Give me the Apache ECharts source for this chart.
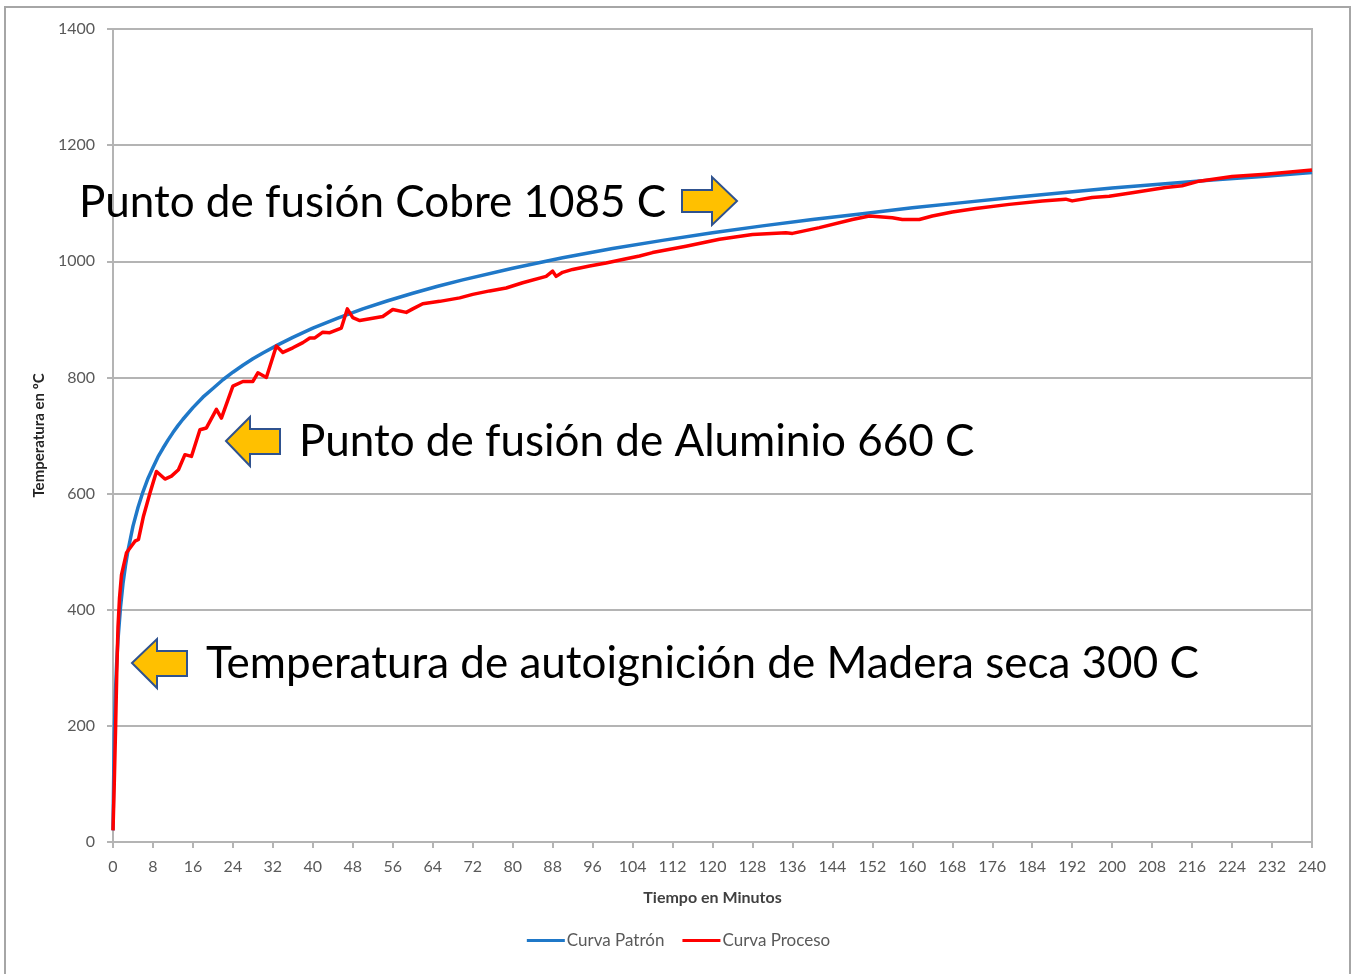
<!DOCTYPE html>
<html>
<head>
<meta charset="utf-8">
<script src="https://cdn.jsdelivr.net/npm/echarts@6/dist/echarts.min.js"></script>
<style>
  html, body { margin: 0; padding: 0; background: #fff; }
  #chart { width: 1357px; height: 974px; }
</style>
</head>
<body>
<div id="chart"></div>
<script>
// Time axis ticks (minutes) and temperature ticks (°C)
const xTicks = [0, 8, 16, 24, 32, 40, 48, 56, 64, 72, 80, 88, 96, 104, 112, 120, 128, 136, 144, 152, 160, 168, 176, 184, 192, 200, 208, 216, 224, 232, 240];
const yTicks = [0, 200, 400, 600, 800, 1000, 1200, 1400];

// Standard curve: time (min) and temperature (°C)
const patronTime = [0, 0.25, 0.5, 0.75, 1, 1.5, 2, 2.5, 3, 4, 5, 6, 7, 8, 9, 10, 11, 12, 13, 14, 16, 18, 20, 22, 24, 26, 28, 30, 33, 36, 40, 45, 50, 55, 60, 65, 70, 80, 90, 100, 110, 120, 130, 140, 150, 160, 170, 180, 190, 200, 210, 220, 230, 240];
const patronTemp = [20, 185, 261, 311, 349, 404, 445, 476, 502, 544, 576, 603, 626, 645, 663, 678, 692, 705, 717, 728, 748, 766, 781, 796, 809, 821, 832, 842, 856, 869, 885, 902, 918, 932, 945, 957, 968, 988, 1006, 1022, 1036, 1049, 1061, 1072, 1082, 1092, 1101, 1110, 1118, 1126, 1133, 1140, 1146, 1153];

// Measured process curve: time (min) and temperature (°C)
const procesoTime = [0, 0.25, 0.5, 0.75, 1, 1.3, 1.7, 2.7, 4.4, 5.1, 6.1, 7.4, 8.7, 10.4, 11.7, 13.1, 14.4, 15.7, 17.4, 18.7, 20.7, 21.7, 24, 26, 28, 29, 30.7, 32.7, 34, 36, 38, 39.4, 40.4, 42, 43.4, 45.7, 46.9, 48, 49.4, 51.4, 54, 56, 58.7, 60, 62, 65.4, 69.4, 72, 75.4, 78.7, 82, 86.7, 88, 88.7, 90, 92, 95.4, 98.7, 102, 105.4, 108, 114.7, 121.4, 128, 134.7, 136, 141.4, 148, 151.4, 156, 158, 161.4, 164, 168, 172.7, 179.4, 186, 190.7, 192, 196, 199.4, 204, 210.7, 214, 217.4, 224, 230.7, 240];
const procesoTemp = [20, 100, 190, 290, 370, 420, 460, 498, 518, 521, 561, 601, 638, 625, 630, 641, 667, 664, 710, 713, 745, 730, 785, 793, 793, 808, 800, 854, 843, 851, 860, 868, 868, 878, 877, 885, 918, 903, 898, 901, 905, 917, 912, 918, 927, 931, 937, 943, 949, 954, 963, 974, 983, 974, 981, 986, 992, 997, 1003, 1009, 1015, 1026, 1038, 1046, 1049, 1048, 1058, 1072, 1078, 1075, 1072, 1072, 1078, 1085, 1091, 1098, 1104, 1107, 1104, 1110, 1112, 1118, 1127, 1130, 1138, 1146, 1150, 1157];

// Annotation texts
const notes = [
  'Punto de fusión Cobre 1085 C',
  'Punto de fusión de Aluminio 660 C',
  'Temperatura de autoignición de Madera seca 300 C'
];

const pairs = (xs, ys) => xs.map((x, i) => [x, ys[i]]);

const FONT = 'Lato, "Open Sans", sans-serif';
const GRID_COLOR = '#b4b4b4';
const LABEL_COLOR = '#595959';
const ARROW_FILL = '#FFC000';
const ARROW_STROKE = '#2F528F';

const chart = echarts.init(document.getElementById('chart'), null, { renderer: 'canvas' });

function arrow(points) {
  return {
    type: 'polygon',
    shape: { points: points },
    style: { fill: ARROW_FILL, stroke: ARROW_STROKE, lineWidth: 2, lineJoin: 'miter' },
    z: 100
  };
}
function note(text, x, y) {
  return {
    type: 'text',
    x: x, y: y,
    style: { text: text, fill: '#000', font: '44px ' + FONT, textAlign: 'left', textVerticalAlign: 'middle' },
    z: 100
  };
}

chart.setOption({
  animation: false,
  backgroundColor: '#fff',
  grid: {
    left: 113, right: 45, top: 29, bottom: 132,
    show: true, borderColor: GRID_COLOR, borderWidth: 2, backgroundColor: 'transparent'
  },
  xAxis: {
    type: 'value',
    min: xTicks[0], max: xTicks[xTicks.length - 1], interval: 8,
    name: 'Tiempo en Minutos',
    nameLocation: 'middle', nameGap: 48,
    nameTextStyle: { fontFamily: FONT, fontWeight: 'bold', fontSize: 16, color: '#404040' },
    axisLine: { show: true, lineStyle: { color: GRID_COLOR, width: 2 } },
    axisTick: { show: true, length: 6, lineStyle: { color: GRID_COLOR, width: 2 } },
    axisLabel: { margin: 17, fontFamily: FONT, fontSize: 16, color: LABEL_COLOR,
      formatter: v => xTicks.includes(v) ? String(v) : '' },
    splitLine: { show: false }
  },
  yAxis: {
    type: 'value',
    min: yTicks[0], max: yTicks[yTicks.length - 1], interval: 200,
    name: 'Temperatura en ºC',
    nameLocation: 'middle', nameGap: 63, nameRotate: 90,
    nameTextStyle: { fontFamily: FONT, fontWeight: 'bold', fontSize: 15, color: '#262626' },
    axisLine: { show: true, lineStyle: { color: GRID_COLOR, width: 2 } },
    axisTick: { show: true, length: 6, lineStyle: { color: GRID_COLOR, width: 2 } },
    axisLabel: { margin: 18, fontFamily: FONT, fontSize: 16, color: LABEL_COLOR,
      formatter: v => yTicks.includes(v) ? String(v) : '' },
    splitLine: { show: true, lineStyle: { color: GRID_COLOR, width: 2 } }
  },
  legend: {
    bottom: 20, left: 'center',
    icon: 'rect', itemWidth: 38, itemHeight: 3, itemGap: 18,
    textStyle: { fontFamily: FONT, fontSize: 17, color: LABEL_COLOR, padding: [0, 0, 0, -3] },
    data: ['Curva Patrón', 'Curva Proceso']
  },
  series: [
    {
      name: 'Curva Patrón', type: 'line',
      data: pairs(patronTime, patronTemp),
      showSymbol: false,
      lineStyle: { color: '#1f78c8', width: 3.5, join: 'round' },
      itemStyle: { color: '#1f78c8' }
    },
    {
      name: 'Curva Proceso', type: 'line',
      data: pairs(procesoTime, procesoTemp),
      showSymbol: false,
      lineStyle: { color: '#ff0000', width: 3.5, join: 'round' },
      itemStyle: { color: '#ff0000' }
    }
  ],
  graphic: [
    {
      type: 'rect',
      shape: { x: 5, y: 7, width: 1345, height: 990 },
      style: { fill: 'none', stroke: '#a6a6a6', lineWidth: 2 },
      silent: true, z: -10
    },
    note(notes[0], 79, 203),
    arrow([[682, 190], [712, 190], [712, 177], [737, 201], [712, 225], [712, 212], [682, 212]]),
    note(notes[1], 299, 442),
    arrow([[226, 441], [250, 417], [250, 429], [280, 429], [280, 454], [250, 454], [250, 466]]),
    note(notes[2], 206, 664),
    arrow([[132, 663], [157, 639], [157, 651], [187, 651], [187, 676], [157, 676], [157, 688]])
  ]
});
</script>
</body>
</html>
